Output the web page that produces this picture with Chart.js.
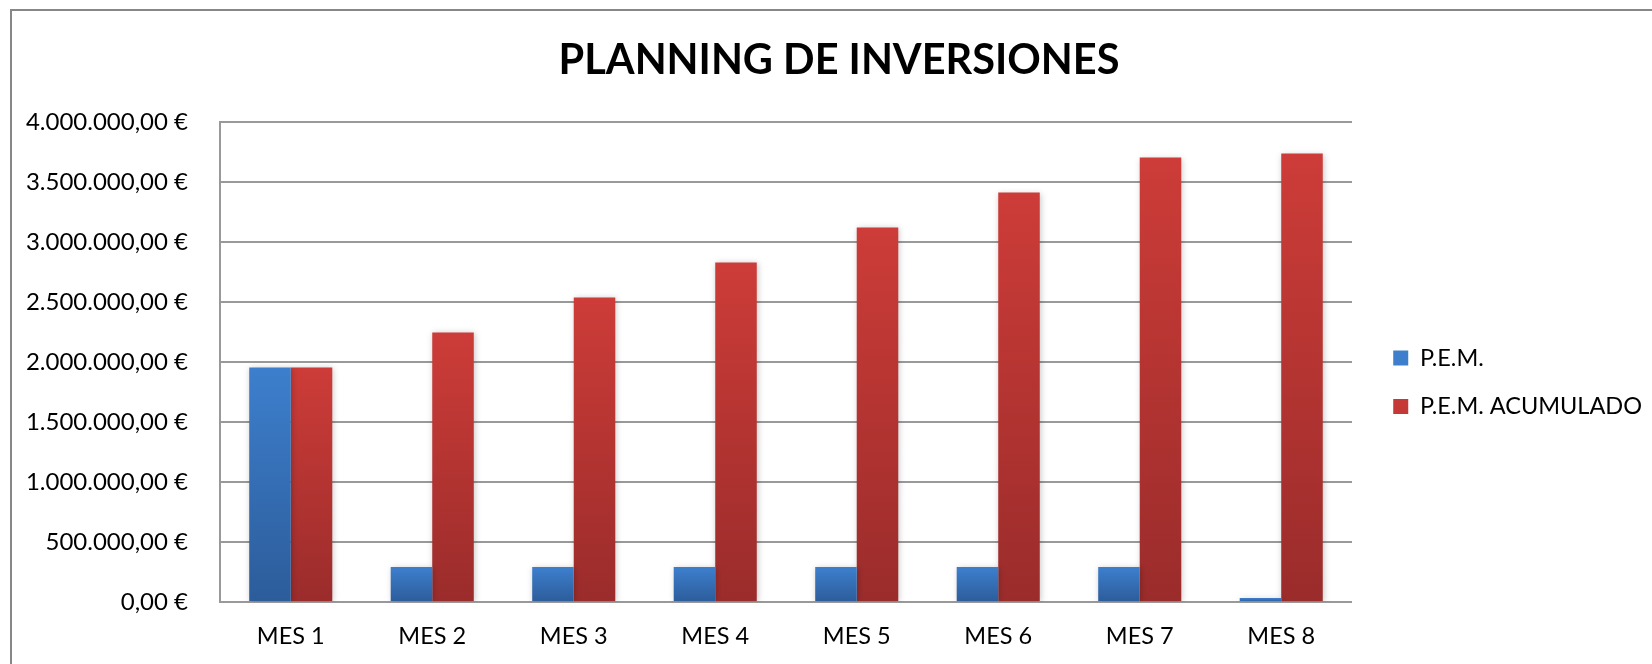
<!DOCTYPE html>
<html>
<head>
<meta charset="utf-8">
<script src="https://cdn.jsdelivr.net/npm/chart.js@4"></script>
<style>
  html, body { margin: 0; padding: 0; background: #ffffff; }
  #wrap { position: relative; width: 1652px; height: 664px; }
</style>
</head>
<body>
<div id="wrap"><canvas id="c" width="1652" height="664"></canvas></div>
<script>
const categories = ['MES 1', 'MES 2', 'MES 3', 'MES 4', 'MES 5', 'MES 6', 'MES 7', 'MES 8'];
const pem = [1955000, 291500, 291500, 291500, 291500, 291500, 291500, 33000];
const pemAcumulado = [1955000, 2246500, 2538000, 2829500, 3121000, 3412500, 3704000, 3737000];
const seriesNames = ['P.E.M.', 'P.E.M. ACUMULADO'];
const yTickLabels = ['0,00 €', '500.000,00 €', '1.000.000,00 €', '1.500.000,00 €', '2.000.000,00 €',
                     '2.500.000,00 €', '3.000.000,00 €', '3.500.000,00 €', '4.000.000,00 €'];
const titleText = 'PLANNING DE INVERSIONES';

function barGradient(top, bottom, solid) {
  return function (ctx) {
    const chart = ctx.chart;
    if (ctx.type !== 'data' || !chart.chartArea) return solid;
    const y = chart.scales.y;
    const yTop = y.getPixelForValue(ctx.raw);
    const yBot = y.getPixelForValue(0);
    if (!isFinite(yTop) || !isFinite(yBot) || Math.abs(yBot - yTop) < 1) return solid;
    const g = chart.ctx.createLinearGradient(0, yTop, 0, yBot);
    g.addColorStop(0, top);
    g.addColorStop(1, bottom);
    return g;
  };
}

const frame = {
  id: 'frame',
  beforeDraw(chart) {
    const c = chart.ctx;
    c.save();
    c.fillStyle = '#ffffff';
    c.fillRect(0, 0, chart.width, chart.height);
    c.fillStyle = '#878787';
    c.fillRect(10, 9, chart.width - 10, 2);
    c.fillRect(10, 9, 2, chart.height - 9);
    c.restore();
  }
};

const shadow = {
  id: 'shadow',
  beforeDatasetsDraw(chart) {
    const c = chart.ctx;
    c.save();
    c.shadowColor = 'rgba(0,0,0,0.22)';
    c.shadowBlur = 6;
    c.shadowOffsetX = 1;
    c.shadowOffsetY = 1;
  },
  afterDatasetsDraw(chart) {
    chart.ctx.restore();
  }
};

Chart.defaults.font.family = 'Lato, "Open Sans", sans-serif';
Chart.defaults.color = '#000000';

new Chart(document.getElementById('c'), {
  type: 'bar',
  data: {
    labels: categories,
    datasets: [
      {
        label: seriesNames[0],
        data: pem,
        backgroundColor: barGradient('#3D7FCD', '#2C5C9A', '#3570B8'),
        borderWidth: 0,
        categoryPercentage: 0.587,
        barPercentage: 1.0
      },
      {
        label: seriesNames[1],
        data: pemAcumulado,
        backgroundColor: barGradient('#CD3C38', '#9A2C2B', '#BA3532'),
        borderWidth: 0,
        categoryPercentage: 0.587,
        barPercentage: 1.0
      }
    ]
  },
  options: {
    responsive: false,
    animation: false,
    devicePixelRatio: 1,
    layout: { padding: { left: 26, right: 0, top: 0, bottom: -6.2 } },
    plugins: {
      title: {
        display: true,
        text: titleText,
        color: '#000000',
        font: { size: 41.5, weight: 'bold', family: 'Lato, "Open Sans", sans-serif' },
        padding: { top: 36.1, bottom: 36.1 }
      },
      legend: {
        display: true,
        position: 'right',
        align: 'center',
        fullSize: false,
        title: {
          display: true,
          text: '',
          font: { size: 1, lineHeight: 1 },
          padding: { top: 39.5, bottom: 0 }
        },
        labels: {
          boxWidth: 15,
          boxHeight: 15,
          padding: 25,
          color: '#000000',
          font: { size: 23.5 }
        }
      },
      tooltip: { enabled: false }
    },
    scales: {
      x: {
        grid: { display: false, drawTicks: false },
        border: { display: true, color: '#999999', width: 2 },
        ticks: { padding: 20, font: { size: 23.5 }, color: '#000000' }
      },
      y: {
        min: 0,
        max: 4000000,
        afterFit(scale) { scale.width = 194; },
        grid: { color: '#999999', lineWidth: 2, drawTicks: false },
        border: { display: true, color: '#999999', width: 2 },
        ticks: {
          stepSize: 500000,
          padding: 32,
          font: { size: 24 },
          color: '#000000',
          callback: (value, index) => yTickLabels[index]
        }
      },
      y2: {
        type: 'linear',
        position: 'right',
        display: false,
        afterFit(scale) { scale.width = 16.25; }
      }
    }
  },
  plugins: [frame, shadow]
});
</script>
</body>
</html>
